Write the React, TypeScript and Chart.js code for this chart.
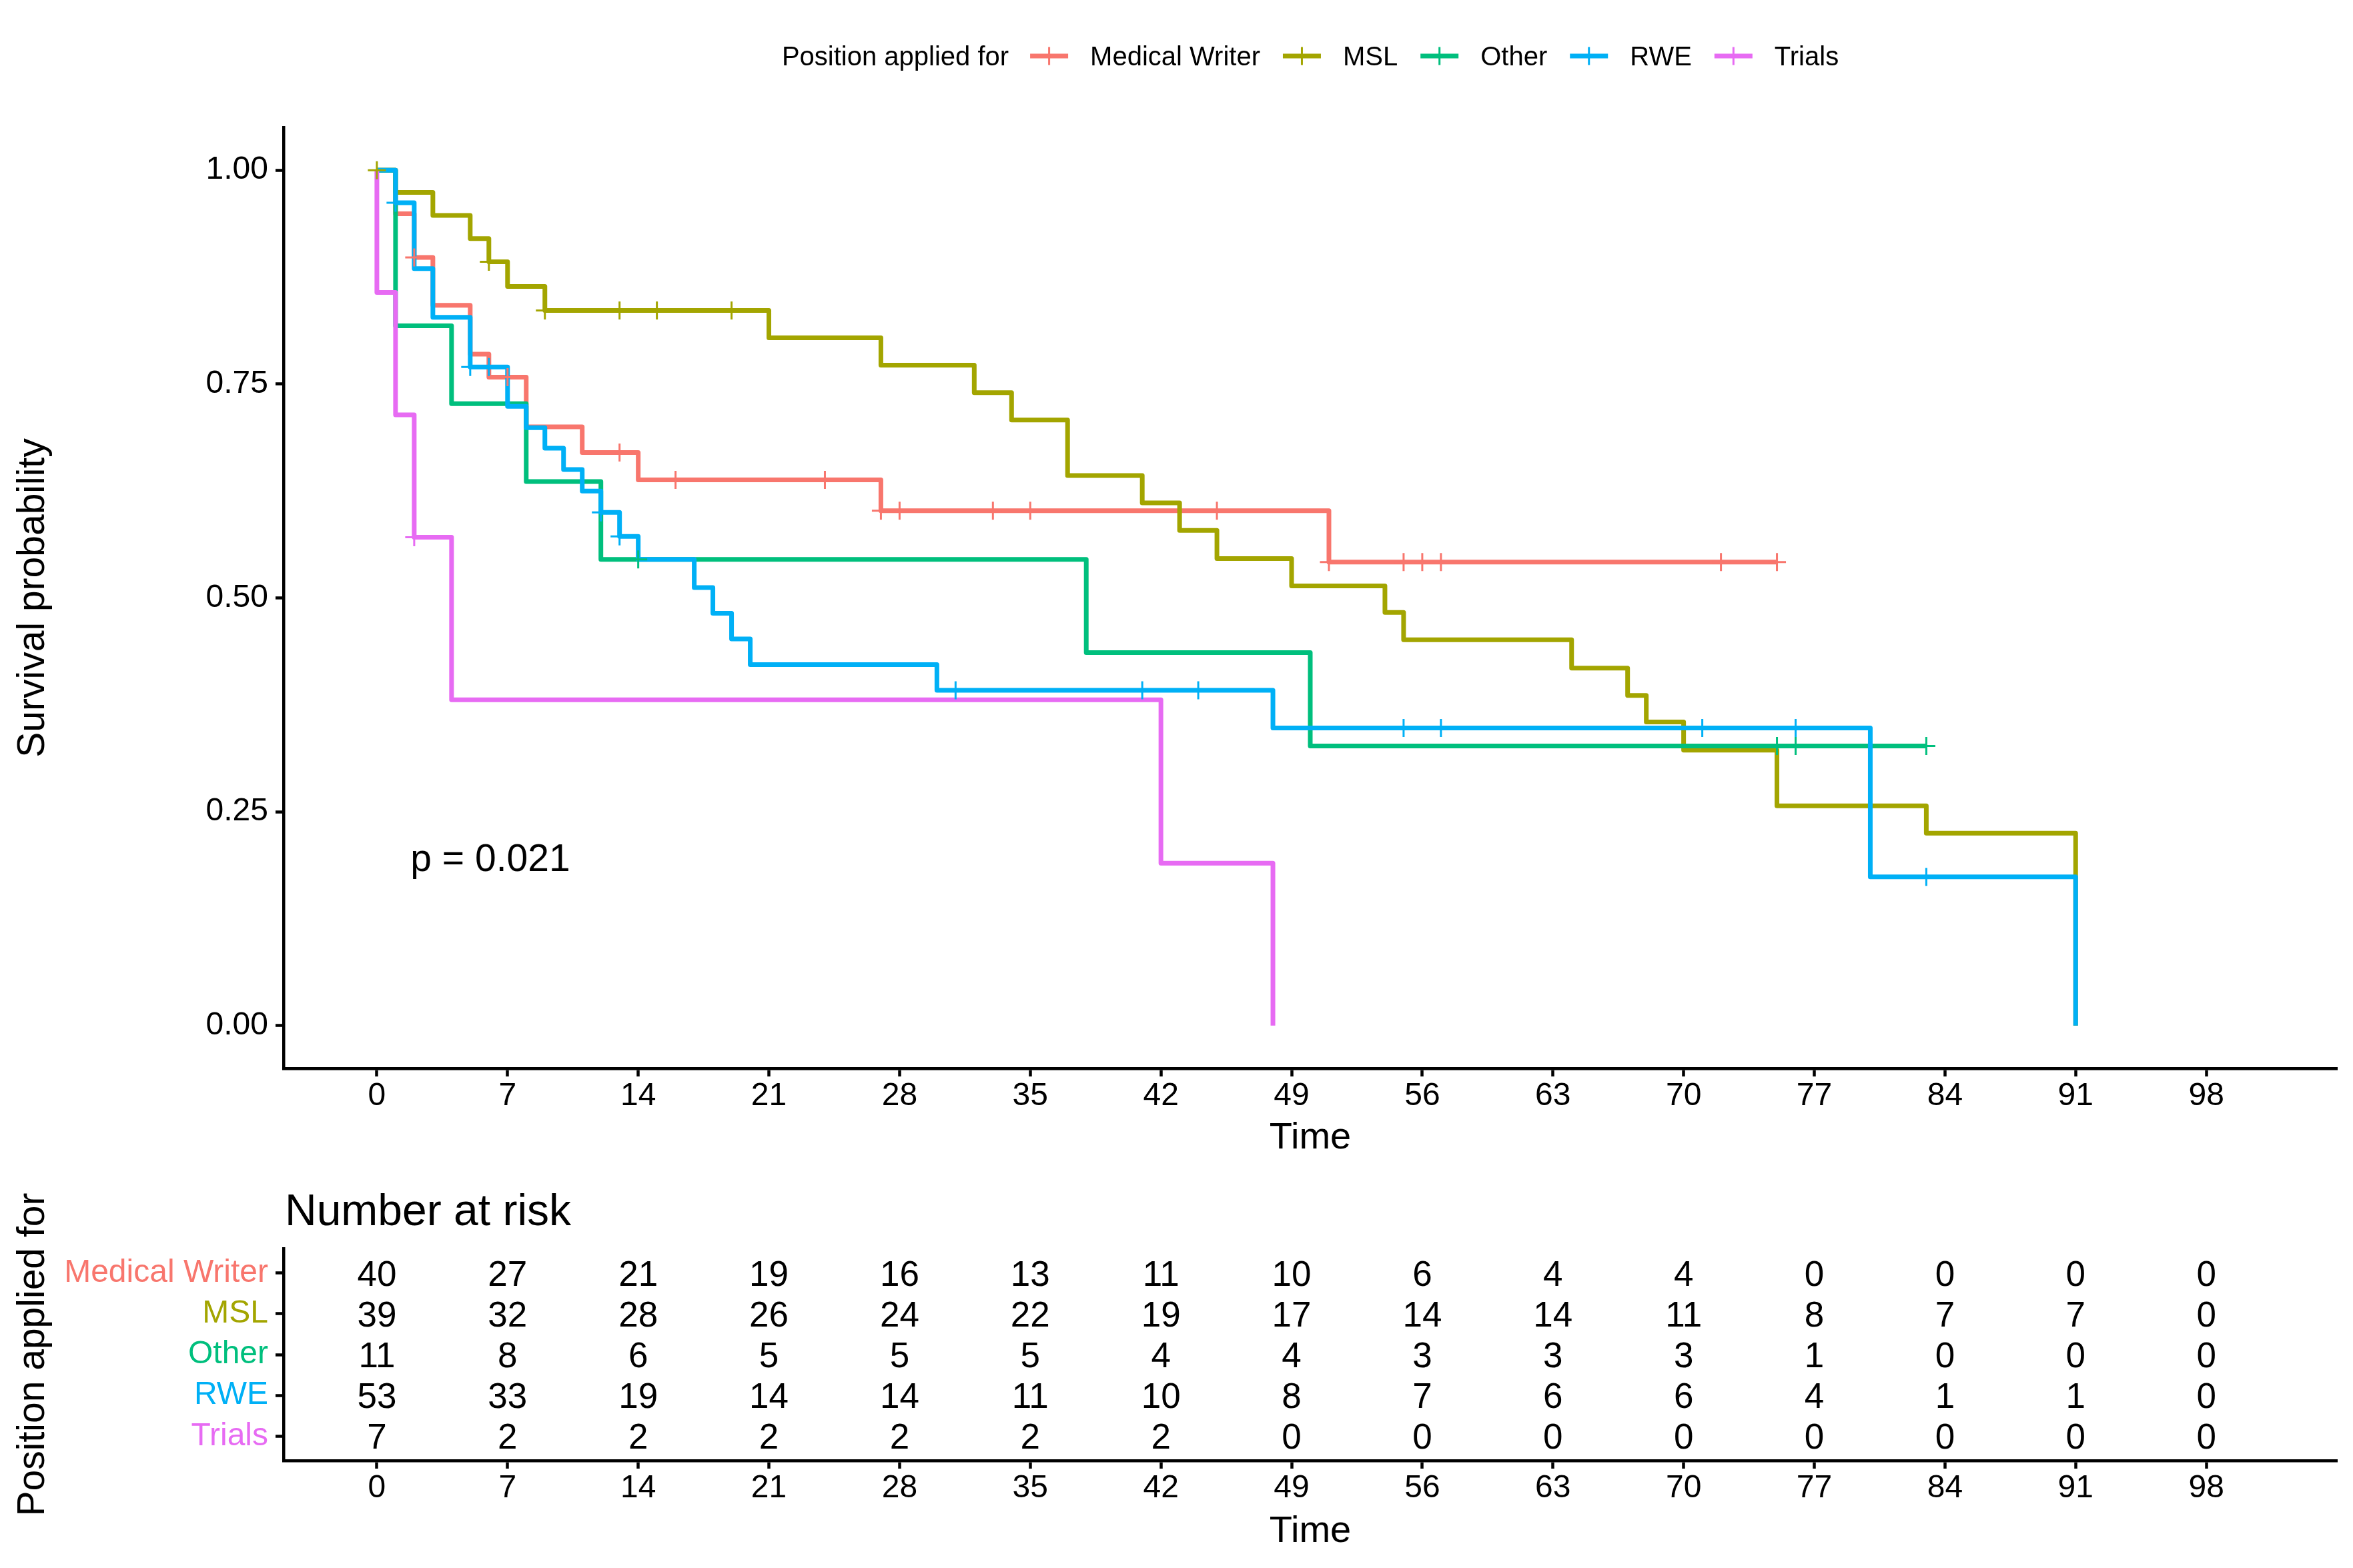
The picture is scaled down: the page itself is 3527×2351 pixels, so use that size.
import { useEffect, useRef } from "react"
import { Chart, registerables } from "chart.js"

Chart.register(...registerables)

const FONT = "'Liberation Sans', Arial, Helvetica, sans-serif"

const groups = ["Medical Writer", "MSL", "Other", "RWE", "Trials"]
const groupColors = ["#F8766D", "#A3A500", "#00BF7D", "#00B0F6", "#E76BF3"]
const legendTitle = "Position applied for"

// Kaplan-Meier steps: time and survival after the step
const writerTimes = [0, 1, 2, 3, 5, 6, 8, 11, 14, 27, 51, 75]
const writerSurv = [1, 0.949, 0.898, 0.842, 0.785, 0.758, 0.7, 0.67, 0.638, 0.602, 0.542, 0.542]
const writerCensor = [2, 7, 13, 16, 24, 27, 28, 33, 35, 45, 51, 55, 56, 57, 72, 75]

const mslTimes = [0, 1, 3, 5, 6, 7, 9, 21, 27, 32, 34, 37, 41, 43, 45, 49, 54, 55, 64, 67, 68, 70, 75, 83, 91]
const mslSurv = [
  1, 0.974, 0.947, 0.92, 0.893, 0.864, 0.836, 0.804, 0.772, 0.74, 0.708, 0.643, 0.611, 0.579, 0.546, 0.514,
  0.483, 0.451, 0.418, 0.386, 0.355, 0.322, 0.257, 0.225, 0,
]
const mslCensor = [0, 6, 9, 13, 15, 19]

const otherTimes = [0, 1, 4, 8, 12, 38, 50, 83]
const otherSurv = [1, 0.818, 0.727, 0.636, 0.545, 0.436, 0.327, 0.327]
const otherCensor = [14, 75, 76, 83]

const rweTimes = [0, 1, 2, 3, 5, 7, 8, 9, 10, 11, 12, 13, 14, 17, 18, 19, 20, 30, 48, 80, 91]
const rweSurv = [
  1, 0.962, 0.885, 0.828, 0.77, 0.724, 0.699, 0.675, 0.65, 0.625, 0.6, 0.572, 0.545, 0.512, 0.482, 0.452, 0.422,
  0.392, 0.348, 0.174, 0,
]
const rweCensor = [1, 5, 6, 12, 13, 31, 41, 44, 55, 57, 71, 76, 83]

const trialsTimes = [0, 0, 1, 2, 4, 42, 48]
const trialsSurv = [1, 0.857, 0.714, 0.571, 0.381, 0.19, 0]
const trialsCensor = [2]

const xTicks = [0, 7, 14, 21, 28, 35, 42, 49, 56, 63, 70, 77, 84, 91, 98]
const yTicks = [0, 0.25, 0.5, 0.75, 1]

const pValueText = "p = 0.021"
const pValueAt = { x: 1.8, y: 0.197 }

// number at risk at each x tick
const riskWriter = [40, 27, 21, 19, 16, 13, 11, 10, 6, 4, 4, 0, 0, 0, 0]
const riskMsl = [39, 32, 28, 26, 24, 22, 19, 17, 14, 14, 11, 8, 7, 7, 0]
const riskOther = [11, 8, 6, 5, 5, 5, 4, 4, 3, 3, 3, 1, 0, 0, 0]
const riskRwe = [53, 33, 19, 14, 14, 11, 10, 8, 7, 6, 6, 4, 1, 1, 0]
const riskTrials = [7, 2, 2, 2, 2, 2, 2, 0, 0, 0, 0, 0, 0, 0, 0]

const series = [
  { times: writerTimes, surv: writerSurv, censor: writerCensor },
  { times: mslTimes, surv: mslSurv, censor: mslCensor },
  { times: otherTimes, surv: otherSurv, censor: otherCensor },
  { times: rweTimes, surv: rweSurv, censor: rweCensor },
  { times: trialsTimes, surv: trialsSurv, censor: trialsCensor },
]
const riskRows = [riskWriter, riskMsl, riskOther, riskRwe, riskTrials]

const W = 3527
const H = 2351
const MAIN_H = 1760
const RISK_H = H - MAIN_H
const LINE_W = 7

function survAt(times: number[], surv: number[], t: number) {
  let s = surv[0]
  for (let i = 0; i < times.length; i++) {
    if (times[i] <= t) s = surv[i]
  }
  return s
}

const axisCommon = {
  grid: { display: true, drawOnChartArea: false, drawTicks: true, tickLength: 12, tickWidth: 4.5, tickColor: "#000" },
  border: { display: true, color: "#000", width: 4.5 },
}

const legendPlugin = {
  id: "kmLegend",
  afterDraw(chart: any) {
    const { ctx, chartArea, scales } = chart
    ctx.save()
    // legend across the top
    ctx.font = `40px ${FONT}`
    ctx.fillStyle = "#000"
    ctx.textAlign = "left"
    ctx.textBaseline = "alphabetic"
    const keyW = 57
    const titleW = ctx.measureText(legendTitle).width
    const widths = groups.map((g) => ctx.measureText(g).width)
    const total = titleW + 32 + widths.reduce((a, w) => a + keyW + 33 + w, 0) + 34 * (groups.length - 1)
    let x = (chartArea.left + chartArea.right) / 2 - total / 2
    const yMid = chartArea.top - 107
    const base = yMid + 0.358 * 40
    ctx.fillText(legendTitle, x, base)
    x += titleW + 32
    groups.forEach((g, i) => {
      ctx.strokeStyle = groupColors[i]
      ctx.lineWidth = LINE_W
      ctx.beginPath()
      ctx.moveTo(x, yMid)
      ctx.lineTo(x + keyW, yMid)
      ctx.stroke()
      ctx.lineWidth = 3
      ctx.beginPath()
      ctx.moveTo(x + keyW / 2, yMid - 13.5)
      ctx.lineTo(x + keyW / 2, yMid + 13.5)
      ctx.stroke()
      x += keyW + 33
      ctx.fillStyle = "#000"
      ctx.fillText(g, x, base)
      x += widths[i] + 34
    })
    // p-value
    ctx.font = `57px ${FONT}`
    ctx.fillText(pValueText, scales.x.getPixelForValue(pValueAt.x), scales.y.getPixelForValue(pValueAt.y) + 0.358 * 57)
    ctx.restore()
  },
}

const riskPlugin = {
  id: "riskTable",
  afterDraw(chart: any) {
    const { ctx, chartArea, scales } = chart
    ctx.save()
    ctx.fillStyle = "#000"
    ctx.textBaseline = "alphabetic"
    ctx.textAlign = "left"
    ctx.font = `66px ${FONT}`
    ctx.fillText("Number at risk", chartArea.left + 2, chartArea.top - 59 + 0.358 * 66)
    ctx.textAlign = "center"
    ctx.font = `53px ${FONT}`
    riskRows.forEach((row, i) => {
      row.forEach((n, j) => {
        ctx.fillText(String(n), scales.x.getPixelForValue(xTicks[j]), scales.y.getPixelForValue(i + 1) + 0.358 * 53)
      })
    })
    ctx.restore()
  },
}

export default function App() {
  const mainRef = useRef<HTMLCanvasElement>(null)
  const riskRef = useRef<HTMLCanvasElement>(null)

  useEffect(() => {
    if (!mainRef.current || !riskRef.current) return
    document.body.style.margin = "0"
    Chart.defaults.font.family = FONT
    Chart.defaults.color = "#000"

    const lineSets = series.map((s, i) => ({
      label: groups[i],
      data: s.times.map((t, j) => ({ x: t, y: s.surv[j] })),
      borderColor: groupColors[i],
      backgroundColor: groupColors[i],
      borderWidth: LINE_W,
      borderJoinStyle: "round" as const,
      stepped: true,
      pointRadius: 0,
      fill: false,
      order: 10 - i,
    }))
    const censorSets = series.map((s, i) => ({
      label: groups[i] + " censored",
      data: s.censor.map((t) => ({ x: t, y: survAt(s.times, s.surv, t) })),
      showLine: false,
      pointStyle: "cross" as const,
      pointRadius: 13.5,
      pointBorderWidth: 3,
      pointBorderColor: groupColors[i],
      borderColor: groupColors[i],
      order: 5 - i,
    }))

    const main = new Chart(mainRef.current, {
      type: "line",
      data: { datasets: [...lineSets, ...censorSets] as any },
      options: {
        responsive: false,
        animation: false,
        devicePixelRatio: 1,
        events: [],
        layout: { padding: { top: 191, right: 24, left: 0, bottom: 0 } },
        plugins: { legend: { display: false }, tooltip: { enabled: false } },
        scales: {
          x: {
            type: "linear",
            min: -5,
            max: 105,
            afterBuildTicks: (s: any) => {
              s.ticks = xTicks.map((v) => ({ value: v }))
            },
            afterFit: (s: any) => {
              s.height = 158
            },
            ...axisCommon,
            ticks: { font: { size: 48 }, color: "#000", padding: 1, maxRotation: 0, autoSkip: false },
            title: { display: true, text: "Time", font: { size: 56 }, color: "#000", padding: { top: 0, bottom: 20 } },
          },
          y: {
            type: "linear",
            min: -0.05,
            max: 1.05,
            afterBuildTicks: (s: any) => {
              s.ticks = yTicks.map((v) => ({ value: v }))
            },
            afterFit: (s: any) => {
              s.width = 425
            },
            ...axisCommon,
            ticks: {
              font: { size: 48 },
              color: "#000",
              padding: 11,
              callback: (v: any) => Number(v).toFixed(2),
            },
            title: {
              display: true,
              text: "Survival probability",
              font: { size: 57 },
              color: "#000",
              padding: { top: 16, bottom: 0 },
            },
          },
        },
      } as any,
      plugins: [legendPlugin],
    })

    const risk = new Chart(riskRef.current, {
      type: "line",
      data: { datasets: [] },
      options: {
        responsive: false,
        animation: false,
        devicePixelRatio: 1,
        events: [],
        layout: { padding: { top: 112, right: 24, left: 0, bottom: 0 } },
        plugins: { legend: { display: false }, tooltip: { enabled: false } },
        scales: {
          x: {
            type: "linear",
            min: -5,
            max: 105,
            afterBuildTicks: (s: any) => {
              s.ticks = xTicks.map((v) => ({ value: v }))
            },
            afterFit: (s: any) => {
              s.height = 161
            },
            ...axisCommon,
            ticks: { font: { size: 48 }, color: "#000", padding: 1, maxRotation: 0, autoSkip: false },
            title: { display: true, text: "Time", font: { size: 56 }, color: "#000", padding: { top: 0, bottom: 21 } },
          },
          y: {
            type: "linear",
            min: 0.4,
            max: 5.6,
            reverse: true,
            afterBuildTicks: (s: any) => {
              s.ticks = groups.map((_, i) => ({ value: i + 1 }))
            },
            afterFit: (s: any) => {
              s.width = 425
            },
            ...axisCommon,
            ticks: {
              font: { size: 48 },
              padding: 11,
              color: (c: any) => groupColors[c.index] ?? "#000",
              callback: (v: any) => groups[Number(v) - 1],
            },
            title: {
              display: true,
              text: legendTitle,
              font: { size: 57 },
              color: "#000",
              padding: { top: 16, bottom: 0 },
            },
          },
        },
      } as any,
      plugins: [riskPlugin],
    })

    return () => {
      main.destroy()
      risk.destroy()
    }
  }, [])

  return (
    <div style={{ position: "relative", width: W, height: H, background: "#fff" }}>
      <canvas
        ref={mainRef}
        width={W}
        height={MAIN_H}
        style={{ position: "absolute", left: 0, top: 0, width: W, height: MAIN_H }}
      />
      <canvas
        ref={riskRef}
        width={W}
        height={RISK_H}
        style={{ position: "absolute", left: 0, top: MAIN_H, width: W, height: RISK_H }}
      />
    </div>
  )
}
